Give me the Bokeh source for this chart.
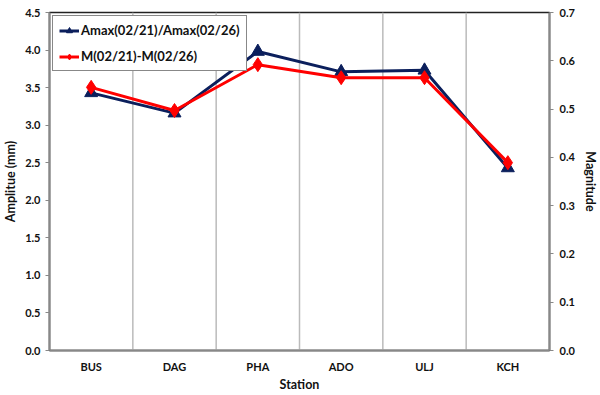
from bokeh.plotting import figure
from bokeh.models import (Range1d, LinearAxis, Legend, LegendItem, FixedTicker,
                          ColumnDataSource, PrintfTickFormatter)
from bokeh.embed import file_html
from bokeh.resources import INLINE

stations = ["BUS", "DAG", "PHA", "ADO", "ULJ", "KCH"]
amp_ratio = [3.43, 3.16, 3.98, 3.71, 3.73, 2.43]
mag_diff = [0.545, 0.497, 0.592, 0.565, 0.565, 0.389]
left_ticks = [0.0, 0.5, 1.0, 1.5, 2.0, 2.5, 3.0, 3.5, 4.0, 4.5]
right_ticks = [0.0, 0.1, 0.2, 0.3, 0.4, 0.5, 0.6, 0.7]

FONT = "Lato"
NAVY = "#0B1F5C"
RED = "#FF0000"

p = figure(x_range=stations, y_range=Range1d(0, 4.5),
           frame_width=500, frame_height=338,
           output_backend="svg", toolbar_location=None,
           min_border_left=42, min_border_right=38, min_border_top=12, min_border_bottom=29)
p.extra_y_ranges = {"mag": Range1d(0, 0.7)}

p.xgrid.grid_line_color = None
p.ygrid.grid_line_color = None
p.outline_line_color = "#222222"
p.outline_line_width = 1.5
p.background_fill_color = "white"
p.border_fill_color = "white"

# vertical separators between categories
bounds = [(s, 0.5) for s in stations[:-1]]
p.segment(x0=bounds, y0=0, x1=bounds, y1=4.5, line_color="#BBBBBB", line_width=1.5)

src = ColumnDataSource(dict(st=stations, amp=amp_ratio, mag=mag_diff))
l1 = p.line("st", "amp", source=src, line_color=NAVY, line_width=3)
m1 = p.scatter("st", "amp", source=src, marker="triangle", size=13,
               fill_color=NAVY, line_color=NAVY)
l2 = p.line("st", "mag", source=src, y_range_name="mag", line_color=RED, line_width=3)
m2 = p.scatter("st", "mag", source=src, y_range_name="mag", marker="diamond", size=14,
               fill_color=RED, line_color=RED)

def style_axis(ax):
    ax.axis_line_color = "#888888"
    ax.axis_line_width = 2
    ax.major_tick_line_color = "#888888"
    ax.major_tick_out = 4
    ax.major_tick_in = 0
    ax.minor_tick_line_color = None
    ax.major_label_text_font = FONT
    ax.major_label_text_font_style = "bold"
    ax.major_label_text_font_size = "11px"
    ax.major_label_text_color = "#111111"
    ax.axis_label_text_font = FONT
    ax.axis_label_text_font_style = "bold"
    ax.axis_label_text_font_size = "12.5px"
    ax.axis_label_text_color = "#111111"

yl = p.yaxis[0]
yl.ticker = FixedTicker(ticks=left_ticks)
yl.formatter = PrintfTickFormatter(format="%.1f")
yl.axis_label = "Amplitue (mm)"
style_axis(yl)
yl.major_label_standoff = 5
yl.axis_label_standoff = 4

yr = LinearAxis(y_range_name="mag", ticker=FixedTicker(ticks=right_ticks),
                formatter=PrintfTickFormatter(format="%.1f"), axis_label="Magnitude")
style_axis(yr)
yr.major_label_standoff = 6
yr.axis_label_standoff = 5
p.add_layout(yr, "right")

xa = p.xaxis[0]
xa.axis_label = "Station"
style_axis(xa)
xa.major_tick_line_color = None
xa.major_label_standoff = 5
xa.axis_label_standoff = 1

legend = Legend(items=[LegendItem(label="Amax(02/21)/Amax(02/26)", renderers=[l1, m1]),
                       LegendItem(label="M(02/21)-M(02/26)", renderers=[l2, m2])],
                location="top_left")
legend.border_line_color = "#111111"
legend.border_line_width = 1.5
legend.label_text_font = FONT
legend.label_text_font_style = "bold"
legend.label_text_font_size = "13px"
legend.label_text_color = "#111111"
legend.glyph_width = 20
legend.glyph_height = 15
legend.label_height = 15
legend.spacing = 10
legend.padding = 6
legend.margin = 3
legend.label_standoff = 2
legend.background_fill_alpha = 1
p.add_layout(legend)

open("out.html", "w").write(file_html(p, INLINE))
